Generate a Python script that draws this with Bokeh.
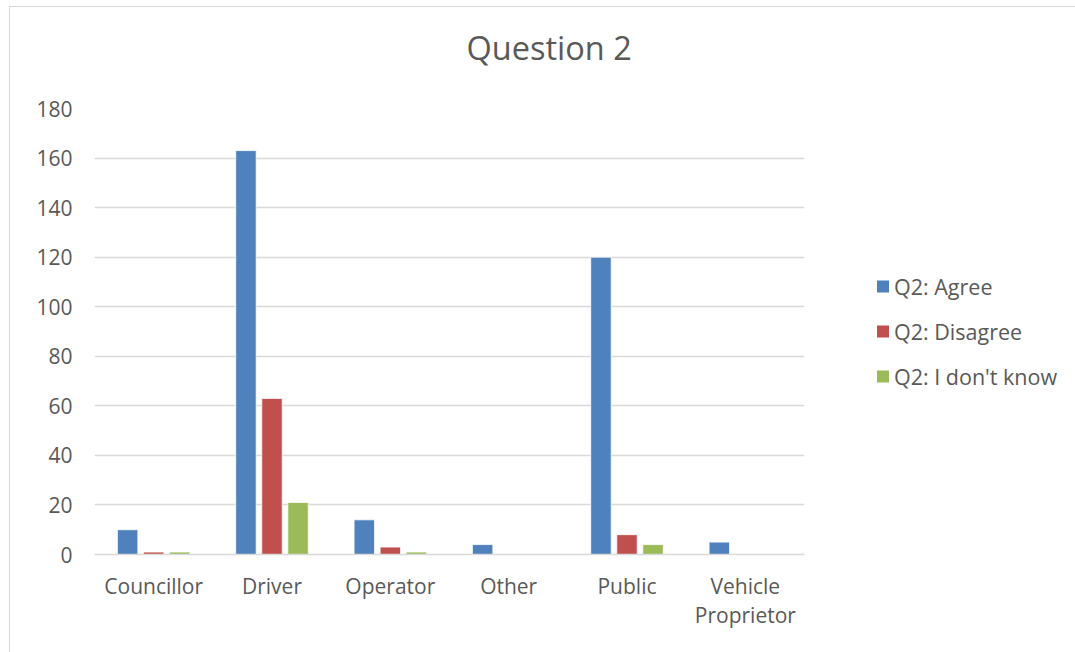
from bokeh.plotting import figure
from bokeh.models import FactorRange, Range1d, Legend, LegendItem, ColumnDataSource, Title
from bokeh.transform import dodge
from bokeh.embed import file_html
from bokeh.resources import INLINE

categories = ["Councillor", "Driver", "Operator", "Other", "Public", "Vehicle\nProprietor"]
series_names = ["Q2: Agree", "Q2: Disagree", "Q2: I don't know"]
agree = [10, 163, 14, 4, 120, 5]
disagree = [1, 63, 3, 0, 8, 0]
dont_know = [1, 21, 1, 0, 4, 0]
y_ticks = [0, 20, 40, 60, 80, 100, 120, 140, 160, 180]
title_text = "Question 2"

colors = ["#4F81BD", "#C0504D", "#9BBB59"]
FONT = "Open Sans"
TXT = "#595959"

source = ColumnDataSource(dict(cat=categories, agree=agree, disagree=disagree, dont_know=dont_know))

p = figure(x_range=FactorRange(*categories), y_range=Range1d(0, 180),
           frame_width=710, frame_height=446, output_backend="svg", toolbar_location=None,
           min_border_left=84, min_border_right=0, min_border_top=101, min_border_bottom=99)

p.styles = {"border": "1px solid #D9D9D9", "margin-left": "9px", "margin-top": "6px"}

legend_renderers = []
for field, off, col in zip(["agree", "disagree", "dont_know"], [-0.22, 0.0, 0.22], colors):
    p.vbar(x=dodge("cat", off, range=p.x_range), top=field, width=0.173, source=source,
           fill_color=col, line_color="white", line_width=0.8)
    lr = p.quad(left=[0], right=[0], top=[0], bottom=[0], fill_color=col, line_color=None)
    legend_renderers.append(lr)

# spacer between plot area and title, then the title itself
p.add_layout(Title(text=" ", text_font_size="2px", standoff=32), "above")
p.add_layout(Title(text=title_text, text_font=FONT, text_font_size="32.5px",
                   text_font_style="normal", text_color=TXT, align="left",
                   vertical_align="top", offset=372, standoff=2), "above")

p.outline_line_color = None
p.background_fill_color = "white"
p.border_fill_color = "white"

p.xgrid.grid_line_color = None
p.ygrid.grid_line_color = "#D9D9D9"
p.ygrid.grid_line_width = 1.3
p.yaxis.ticker = y_ticks

p.yaxis.axis_line_color = None
p.yaxis.major_tick_line_color = None
p.yaxis.minor_tick_line_color = None
p.yaxis.major_label_text_font = FONT
p.yaxis.major_label_text_font_size = "21px"
p.yaxis.major_label_text_color = TXT
p.yaxis.major_label_standoff = 16

p.xaxis.axis_line_color = "#D9D9D9"
p.xaxis.axis_line_width = 1.3
p.xaxis.major_tick_line_color = None
p.xaxis.minor_tick_line_color = None
p.xaxis.major_label_text_font = FONT
p.xaxis.major_label_text_font_size = "21px"
p.xaxis.major_label_text_color = TXT
p.xaxis.major_label_text_line_height = 1.05
p.xaxis.major_label_standoff = 11

legend = Legend(items=[LegendItem(label=n, renderers=[r]) for n, r in zip(series_names, legend_renderers)],
                location="center_left")
legend.margin = 71
legend.padding = 0
legend.border_line_color = None
legend.background_fill_alpha = 0
legend.glyph_width = 15
legend.glyph_height = 15
legend.label_standoff = 4
legend.spacing = 16
legend.label_text_font = FONT
legend.label_text_font_size = "21.5px"
legend.label_text_color = TXT
p.add_layout(legend, "right")

open("out.html", "w").write(file_html(p, INLINE))
